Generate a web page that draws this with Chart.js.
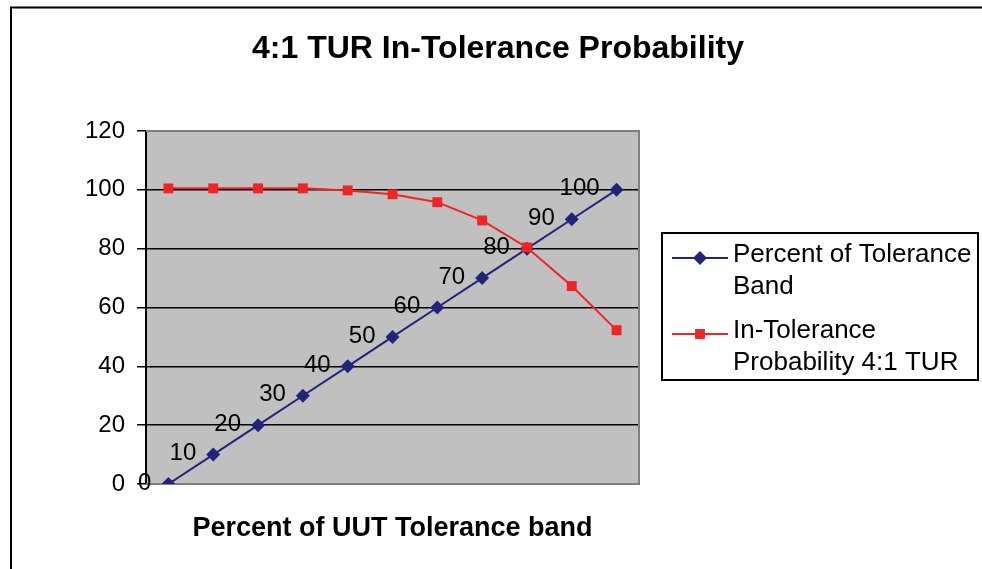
<!DOCTYPE html>
<html>
<head>
<meta charset="utf-8">
<script src="https://cdn.jsdelivr.net/npm/chart.js"></script>
<style>
  html, body { margin: 0; padding: 0; background: #fff; }
  #wrap { width: 982px; height: 569px; }
</style>
</head>
<body>
<div id="wrap"><canvas id="content" width="982" height="569"></canvas></div>
<script>
// chart values
var categories = ["0", "10", "20", "30", "40", "50", "60", "70", "80", "90", "100"];
var percentBand = [0, 10, 20, 30, 40, 50, 60, 70, 80, 90, 100];
var inTolerance = [100.5, 100.5, 100.5, 100.5, 99.8, 98.5, 95.8, 89.6, 80.4, 67.3, 52.3];
var yTicks = [0, 20, 40, 60, 80, 100, 120];
var seriesNames = ["Percent of Tolerance Band", "In-Tolerance Probability 4:1 TUR"];
var chartTitle = "4:1 TUR In-Tolerance Probability";
var xTitle = "Percent of UUT Tolerance band";

var FONT = "'Liberation Sans', Arial, sans-serif";
Chart.defaults.font.family = FONT;
Chart.defaults.color = "#000";

// diamond / square markers, shared by legend
function marker(ctx, style, x, y, r, color) {
    ctx.save();
    ctx.fillStyle = color;
    ctx.beginPath();
    if (style == "rectRot") {
        ctx.moveTo(x, y - r);
        ctx.lineTo(x + r, y);
        ctx.lineTo(x, y + r);
        ctx.lineTo(x - r, y);
    } else {
        var s = r * Math.SQRT1_2;
        ctx.rect(x - s, y - s, s * 2, s * 2);
    }
    ctx.closePath();
    ctx.fill();
    ctx.restore();
}

function wrapText(ctx, text, maxW) {
    var words = text.split(" ");
    var lines = [];
    var cur = "";
    words.forEach(function (w) {
        var test = cur ? cur + " " + w : w;
        if (ctx.measureText(test).width > maxW && cur) {
            lines.push(cur);
            cur = w;
        } else {
            cur = test;
        }
    });
    if (cur) lines.push(cur);
    return lines;
}

var decor = {
    id: "decor",
    beforeDraw: function (chart) {
        var ctx = chart.ctx;
        var a = chart.chartArea;
        ctx.save();
        // outer frame (left and top edges visible)
        ctx.strokeStyle = "#000";
        ctx.lineWidth = 2;
        ctx.beginPath();
        ctx.moveTo(11, 600);
        ctx.lineTo(11, 7.5);
        ctx.lineTo(1000, 7.5);
        ctx.stroke();
        // plot area
        ctx.fillStyle = "#c0c0c0";
        ctx.fillRect(a.left, a.top, a.right - a.left, a.bottom - a.top);
        // title
        ctx.fillStyle = "#000";
        ctx.font = "bold 32px " + FONT;
        ctx.textAlign = "center";
        ctx.textBaseline = "alphabetic";
        ctx.fillText(chartTitle, 498, 58);
        ctx.restore();
    },
    beforeDatasetsDraw: function (chart) {
        var ctx = chart.ctx;
        var a = chart.chartArea;
        ctx.save();
        ctx.strokeStyle = "#808080";
        ctx.lineWidth = 2;
        ctx.beginPath();
        ctx.moveTo(a.left, a.top);
        ctx.lineTo(a.right, a.top);
        ctx.lineTo(a.right, a.bottom);
        ctx.lineTo(a.left, a.bottom);
        ctx.stroke();
        ctx.restore();
    },
    afterDatasetsDraw: function (chart) {
        var ctx = chart.ctx;
        var meta = chart.getDatasetMeta(0);
        ctx.save();
        ctx.fillStyle = "#000";
        ctx.font = "24px " + FONT;
        ctx.textAlign = "right";
        ctx.textBaseline = "middle";
        meta.data.forEach(function (pt, i) {
            ctx.fillText(String(chart.data.datasets[0].data[i]), pt.x - 17, pt.y - 1);
        });
        ctx.restore();
    },
    afterDraw: function (chart) {
        var ctx = chart.ctx;
        var box = { x: 662, y: 233, w: 316, h: 147 };
        ctx.save();
        ctx.fillStyle = "#fff";
        ctx.fillRect(box.x, box.y, box.w, box.h);
        ctx.strokeStyle = "#000";
        ctx.lineWidth = 2;
        ctx.strokeRect(box.x, box.y, box.w, box.h);
        ctx.font = "26px " + FONT;
        ctx.textAlign = "left";
        ctx.textBaseline = "middle";
        var y = box.y + 22;
        chart.data.datasets.forEach(function (ds) {
            var lines = wrapText(ctx, ds.label, 243);
            ctx.strokeStyle = ds.borderColor;
            ctx.lineWidth = 2;
            ctx.beginPath();
            ctx.moveTo(672, y + 3);
            ctx.lineTo(728, y + 3);
            ctx.stroke();
            marker(ctx, ds.pointStyle, 700, y + 3, ds.pointRadius, ds.pointBackgroundColor);
            ctx.fillStyle = "#000";
            lines.forEach(function (ln, k) {
                ctx.fillText(ln, 733, y + k * 32);
            });
            y += lines.length * 32 + 12;
        });
        ctx.restore();
    }
};

var ctx = document.getElementById("content").getContext("2d");
new Chart(ctx, {
    type: "line",
    data: {
        labels: categories,
        datasets: [{
            label: seriesNames[0],
            data: percentBand,
            borderColor: "#23237a",
            borderWidth: 2,
            pointStyle: "rectRot",
            pointRadius: 7,
            pointBackgroundColor: "#23237a",
            pointBorderWidth: 0,
            order: 1
        }, {
            label: seriesNames[1],
            data: inTolerance,
            borderColor: "#f02424",
            borderWidth: 2,
            pointStyle: "rect",
            pointRadius: 7,
            pointBackgroundColor: "#f02424",
            pointBorderWidth: 0,
            order: 0
        }]
    },
    options: {
        responsive: false,
        animation: false,
        layout: { padding: { top: 131, left: 0, right: 343, bottom: 0 } },
        plugins: {
            legend: { display: false },
            title: { display: false },
            tooltip: { enabled: false }
        },
        scales: {
            x: {
                offset: true,
                grid: { display: false },
                border: { display: false },
                ticks: { display: false },
                title: {
                    display: true,
                    text: xTitle,
                    font: { size: 27, weight: "bold" },
                    padding: { top: 0, bottom: 24 }
                },
                afterFit: function (scale) { scale.height = 85; }
            },
            y: {
                min: 0,
                max: 120,
                afterBuildTicks: function (scale) {
                    scale.ticks = yTicks.map(function (v) { return { value: v }; });
                },
                grid: { color: "#000", lineWidth: 1.5, tickLength: 9 },
                border: { color: "#000", width: 2 },
                ticks: { font: { size: 24 }, color: "#000", padding: 12 },
                afterFit: function (scale) { scale.width = 146; }
            }
        }
    },
    plugins: [decor]
});
</script>
</body>
</html>
